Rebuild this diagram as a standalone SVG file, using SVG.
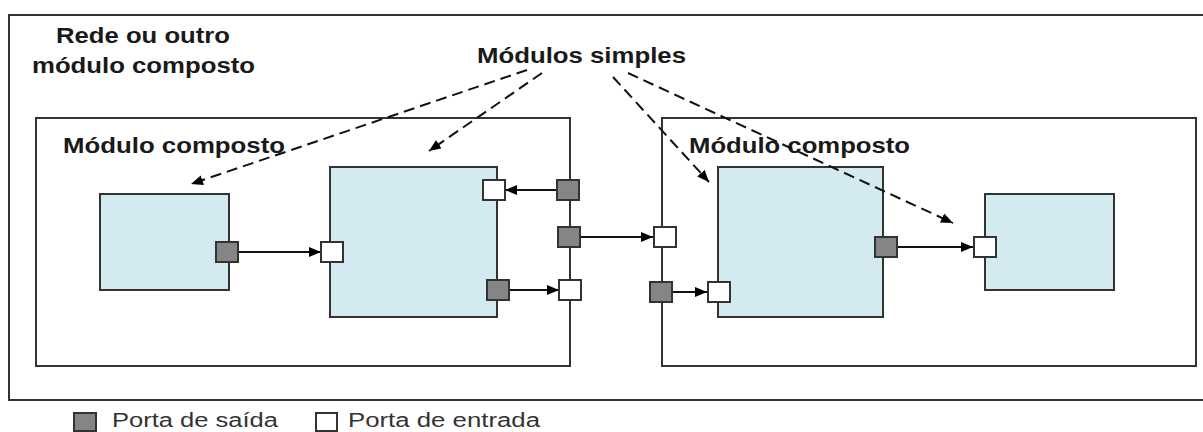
<svg xmlns="http://www.w3.org/2000/svg" width="1203" height="432" viewBox="0 0 1203 432">
<defs>
<marker id="ah" viewBox="0 0 12 10" refX="12" refY="5" markerWidth="12" markerHeight="10" markerUnits="userSpaceOnUse" orient="auto">
<path d="M0,0 L12,5 L0,10 Z" fill="#000"/>
</marker>
</defs>
<style>
.box{fill:#fff;stroke:#333;stroke-width:2}
.mod{fill:#d3eaf0;stroke:#333;stroke-width:2}
.out{fill:#858585;stroke:#333;stroke-width:2}
.in{fill:#fff;stroke:#333;stroke-width:2}
.t{font-family:"Liberation Sans",Arial,sans-serif;font-weight:bold;font-size:22px;fill:#1a1a1a}
.l{font-family:"Liberation Sans",Arial,sans-serif;font-size:20px;fill:#333}
.c{stroke:#111;stroke-width:1.8;fill:none;marker-end:url(#ah)}
.d{stroke:#111;stroke-width:2;fill:none;stroke-dasharray:11 6;marker-end:url(#ah)}
</style>
<rect width="1203" height="432" fill="#fff"/>
<g id="outer">
<rect class="box" x="9" y="15" width="1200" height="385" stroke="#555"/>
<text class="t" x="56" y="43" textLength="174" lengthAdjust="spacingAndGlyphs">Rede ou outro</text>
<text class="t" x="32" y="73" textLength="223" lengthAdjust="spacingAndGlyphs">módulo composto</text>
</g>
<g id="label-simples">
<text class="t" x="477" y="63" textLength="209" lengthAdjust="spacingAndGlyphs">Módulos simples</text>
</g>
<g id="composto-esq">
<rect class="box" x="36" y="118" width="534" height="248"/>
<text class="t" x="63" y="153" textLength="222" lengthAdjust="spacingAndGlyphs">Módulo composto</text>
</g>
<g id="composto-dir">
<rect class="box" x="662" y="118" width="534" height="248"/>
<text class="t" x="689" y="153" textLength="221" lengthAdjust="spacingAndGlyphs">Módulo composto</text>
</g>
<g id="simples-1"><rect class="mod" x="100" y="194" width="129" height="96"/></g>
<g id="simples-2"><rect class="mod" x="330" y="167" width="167" height="150"/></g>
<g id="simples-3"><rect class="mod" x="718" y="167" width="165" height="150"/></g>
<g id="simples-4"><rect class="mod" x="985" y="194" width="129" height="96"/></g>
<g id="connectors">
<line class="c" x1="238" y1="252" x2="321" y2="252"/>
<line class="c" x1="557" y1="190" x2="505" y2="190"/>
<line class="c" x1="580" y1="237" x2="653" y2="237"/>
<line class="c" x1="509" y1="290" x2="559" y2="290"/>
<line class="c" x1="672" y1="292" x2="707" y2="292"/>
<line class="c" x1="897" y1="247" x2="973" y2="247"/>
<line class="d" x1="527" y1="70" x2="191" y2="184"/>
<line class="d" x1="542" y1="73" x2="429" y2="151"/>
<line class="d" x1="613" y1="77" x2="709" y2="182"/>
<line class="d" x1="628" y1="73" x2="953" y2="223"/>
</g>
<g id="ports">
<rect class="out" x="216" y="242" width="22" height="20"/>
<rect class="in" x="321" y="242" width="22" height="20"/>
<rect class="in" x="483" y="180" width="22" height="20"/>
<rect class="out" x="557" y="180" width="22" height="20"/>
<rect class="out" x="558" y="227" width="22" height="20"/>
<rect class="in" x="654" y="227" width="22" height="20"/>
<rect class="out" x="487" y="280" width="22" height="20"/>
<rect class="in" x="559" y="280" width="22" height="20"/>
<rect class="out" x="650" y="282" width="22" height="20"/>
<rect class="in" x="708" y="282" width="22" height="20"/>
<rect class="out" x="875" y="237" width="22" height="20"/>
<rect class="in" x="974" y="237" width="22" height="20"/>
</g>
<g id="legend">
<rect class="out" x="74" y="413" width="22" height="18"/>
<text class="l" x="112" y="427" textLength="166" lengthAdjust="spacingAndGlyphs">Porta de saída</text>
<rect class="in" x="316" y="413" width="21" height="18"/>
<text class="l" x="348" y="427" textLength="192" lengthAdjust="spacingAndGlyphs">Porta de entrada</text>
</g>
</svg>
